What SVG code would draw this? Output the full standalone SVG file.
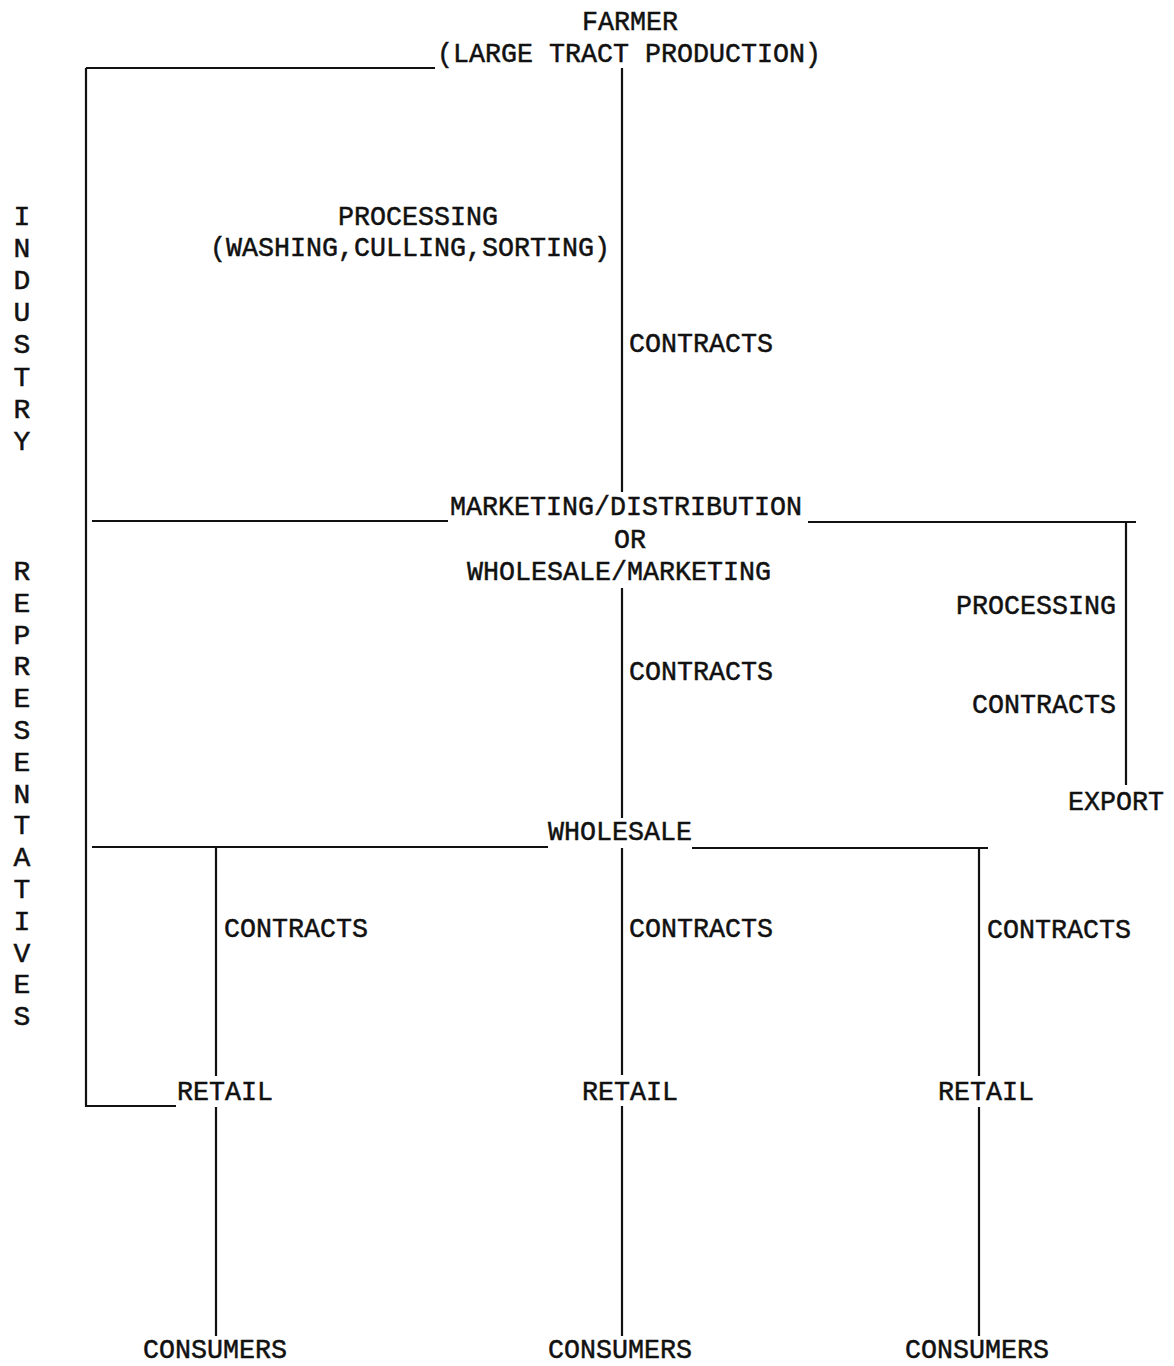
<svg xmlns="http://www.w3.org/2000/svg" width="1174" height="1366" viewBox="0 0 1174 1366">
<style>
text{font-family:"Liberation Mono","DejaVu Sans Mono",monospace;font-size:28px;fill:#111;stroke:#111;stroke-width:0.5}
.ln line{stroke:#111;stroke-width:2.2;fill:none}
</style>
<rect width="1174" height="1366" fill="#fff"/>
<g id="connectors" class="ln">
<line x1="86" y1="68" x2="86" y2="1107"/>
<line x1="86" y1="68" x2="435" y2="68"/>
<line x1="85" y1="1106" x2="176" y2="1106"/>
<line x1="622" y1="68" x2="622" y2="492"/>
<line x1="622" y1="588" x2="622" y2="818"/>
<line x1="622" y1="848" x2="622" y2="1075"/>
<line x1="622" y1="1106" x2="622" y2="1336"/>
<line x1="92" y1="521" x2="448" y2="521"/>
<line x1="808" y1="522" x2="1136" y2="522"/>
<line x1="1126" y1="522" x2="1126" y2="785"/>
<line x1="92" y1="847" x2="548" y2="847"/>
<line x1="692" y1="848" x2="988" y2="848"/>
<line x1="216" y1="847" x2="216" y2="1076"/>
<line x1="216" y1="1107" x2="216" y2="1336"/>
<line x1="979" y1="848" x2="979" y2="1076"/>
<line x1="979" y1="1107" x2="979" y2="1336"/>
</g>
<g id="farmer"><text x="582" y="30" textLength="96" lengthAdjust="spacingAndGlyphs">FARMER</text><text x="437" y="62" textLength="384" lengthAdjust="spacingAndGlyphs">(LARGE TRACT PRODUCTION)</text></g>
<g id="processing"><text x="338" y="225" textLength="160" lengthAdjust="spacingAndGlyphs">PROCESSING</text><text x="210" y="256" textLength="400" lengthAdjust="spacingAndGlyphs">(WASHING,CULLING,SORTING)</text></g>
<g id="contracts1"><text x="629" y="352" textLength="144" lengthAdjust="spacingAndGlyphs">CONTRACTS</text></g>
<g id="marketing"><text x="450" y="515" textLength="352" lengthAdjust="spacingAndGlyphs">MARKETING/DISTRIBUTION</text><text x="614" y="548" textLength="32" lengthAdjust="spacingAndGlyphs">OR</text><text x="467" y="580" textLength="304" lengthAdjust="spacingAndGlyphs">WHOLESALE/MARKETING</text></g>
<g id="contracts2"><text x="629" y="680" textLength="144" lengthAdjust="spacingAndGlyphs">CONTRACTS</text></g>
<g id="processing2"><text x="956" y="614" textLength="160" lengthAdjust="spacingAndGlyphs">PROCESSING</text></g>
<g id="contracts3"><text x="972" y="713" textLength="144" lengthAdjust="spacingAndGlyphs">CONTRACTS</text></g>
<g id="export"><text x="1068" y="810" textLength="96" lengthAdjust="spacingAndGlyphs">EXPORT</text></g>
<g id="wholesale"><text x="548" y="840" textLength="144" lengthAdjust="spacingAndGlyphs">WHOLESALE</text></g>
<g id="contracts4"><text x="224" y="937" textLength="144" lengthAdjust="spacingAndGlyphs">CONTRACTS</text></g>
<g id="contracts5"><text x="629" y="937" textLength="144" lengthAdjust="spacingAndGlyphs">CONTRACTS</text></g>
<g id="contracts6"><text x="987" y="938" textLength="144" lengthAdjust="spacingAndGlyphs">CONTRACTS</text></g>
<g id="retail1"><text x="177" y="1100" textLength="96" lengthAdjust="spacingAndGlyphs">RETAIL</text></g>
<g id="retail2"><text x="582" y="1100" textLength="96" lengthAdjust="spacingAndGlyphs">RETAIL</text></g>
<g id="retail3"><text x="938" y="1100" textLength="96" lengthAdjust="spacingAndGlyphs">RETAIL</text></g>
<g id="consumers1"><text x="143" y="1358" textLength="144" lengthAdjust="spacingAndGlyphs">CONSUMERS</text></g>
<g id="consumers2"><text x="548" y="1358" textLength="144" lengthAdjust="spacingAndGlyphs">CONSUMERS</text></g>
<g id="consumers3"><text x="905" y="1358" textLength="144" lengthAdjust="spacingAndGlyphs">CONSUMERS</text></g>
<g id="industry-representatives">
<text text-anchor="middle"><tspan x="22" y="225">I</tspan><tspan x="22" y="257">N</tspan><tspan x="22" y="289">D</tspan><tspan x="22" y="321">U</tspan><tspan x="22" y="353">S</tspan><tspan x="22" y="386">T</tspan><tspan x="22" y="418">R</tspan><tspan x="22" y="450">Y</tspan></text>
<text text-anchor="middle"><tspan x="22" y="580">R</tspan><tspan x="22" y="612">E</tspan><tspan x="22" y="644">P</tspan><tspan x="22" y="675">R</tspan><tspan x="22" y="707">E</tspan><tspan x="22" y="739">S</tspan><tspan x="22" y="771">E</tspan><tspan x="22" y="803">N</tspan><tspan x="22" y="834">T</tspan><tspan x="22" y="866">A</tspan><tspan x="22" y="898">T</tspan><tspan x="22" y="930">I</tspan><tspan x="22" y="962">V</tspan><tspan x="22" y="993">E</tspan><tspan x="22" y="1025">S</tspan></text>
</g>
</svg>
